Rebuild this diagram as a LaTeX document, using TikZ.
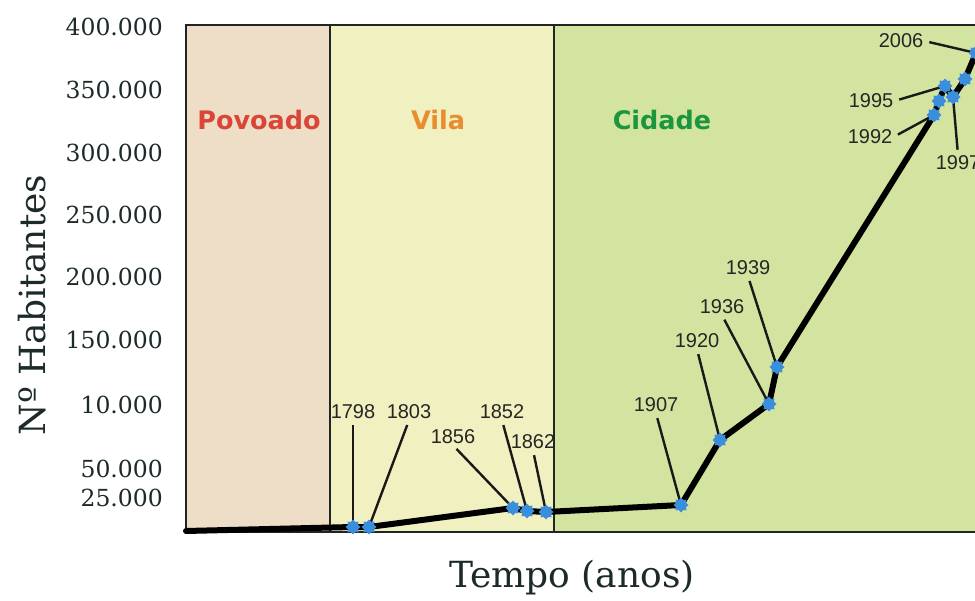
\documentclass[tikz,border=0pt]{standalone}
\usepackage{fontspec}
\usetikzlibrary{shapes.geometric}
\newfontfamily\serifax{DejaVu Serif}
\newfontfamily\sansyr{Liberation Sans}
\newfontfamily\sansbold{DejaVu Sans}
\definecolor{povfill}{RGB}{238,222,200}
\definecolor{vilfill}{RGB}{240,240,192}
\definecolor{cidfill}{RGB}{210,228,160}
\definecolor{povtext}{RGB}{217,70,55}
\definecolor{viltext}{RGB}{232,140,45}
\definecolor{cidtext}{RGB}{28,150,62}
\definecolor{markblue}{RGB}{58,142,220}
\definecolor{framec}{RGB}{30,38,36}
\definecolor{ticktext}{RGB}{28,42,42}
\tikzset{
  tick/.style={anchor=east, font=\serifax\fontsize{23.5}{23.5}\selectfont, text=ticktext, inner sep=0pt},
  yearlbl/.style={font=\sansyr\fontsize{20}{20}\selectfont, text=black!85, inner sep=1pt},
  era/.style={font=\sansbold\bfseries\fontsize{25.5}{25.5}\selectfont},
  leader/.style={line width=2.4pt, black!90, shorten <=5pt},
  curve/.style={line width=6pt, black, line join=round, line cap=round},
  popmark/.style={star, star points=8, star point ratio=1.35, minimum size=15pt, inner sep=0pt, fill=markblue, draw=none},
  sep/.style={line width=2.2pt, framec}
}
\begin{document}
\begin{tikzpicture}[x=1pt,y=-1pt]
\clip (0,0) rectangle (975,601);
\fill[white] (0,0) rectangle (975,601);
% regions
\fill[povfill] (186,25) rectangle (330,532);
\fill[vilfill] (330,25) rectangle (554,532);
\fill[cidfill] (554,25) rectangle (990,532);
\draw[sep] (330,25) -- (330,532);
\draw[sep] (554,25) -- (554,532);
\draw[line width=2.5pt, framec] (990,532) -- (186,532) -- (186,25) -- (990,25);
% era names
\node[era, text=povtext] (povoado) at (259,120) {Povoado};
\node[era, text=viltext] (vila) at (438,120) {Vila};
\node[era, text=cidtext] (cidade) at (662,120) {Cidade};
% y ticks
\node[tick] (t400) at (163,27) {400.000};
\node[tick] (t350) at (163,90) {350.000};
\node[tick] (t300) at (163,153) {300.000};
\node[tick] (t250) at (163,215) {250.000};
\node[tick] (t200) at (163,277) {200.000};
\node[tick] (t150) at (163,340) {150.000};
\node[tick] (t10) at (163,405) {10.000};
\node[tick] (t50) at (163,469) {50.000};
\node[tick] (t25) at (163,498) {25.000};
% axis titles
\node[font=\serifax\fontsize{36}{36}\selectfont, text=ticktext, rotate=90] (ytitle) at (32,305) {Nº Habitantes};
\node[font=\serifax\fontsize{36}{36}\selectfont, text=ticktext] (xtitle) at (572,578) {Tempo (anos)};
% data points
\coordinate (start) at (186,531);
\coordinate (m1798) at (353,527);
\coordinate (m1803) at (369,527);
\coordinate (m1856) at (513,508);
\coordinate (m1852) at (527,511);
\coordinate (m1862) at (546,512);
\coordinate (m1907) at (681,505);
\coordinate (m1920) at (720,440);
\coordinate (m1936) at (769,404);
\coordinate (m1939) at (777,367);
\coordinate (m1992) at (934,115);
\coordinate (mA) at (939,101);
\coordinate (m1995) at (945,86);
\coordinate (m1997) at (953,97);
\coordinate (mB) at (965,79);
\coordinate (m2006) at (976,53);
\coordinate (endc) at (990,30);
\draw[curve] (start) -- (m1798) -- (m1803) -- (m1856) -- (m1852) -- (m1862) -- (m1907) -- (m1920) -- (m1936) -- (m1939) -- (m1992) -- (mA) -- (m1995) -- (m1997) -- (mB) -- (m2006) -- (endc);
% year labels
\node[yearlbl] (l1798) at (353,412) {1798};
\node[yearlbl] (l1803) at (409,412) {1803};
\node[yearlbl] (l1856) at (453,437) {1856};
\node[yearlbl] (l1852) at (502,412) {1852};
\node[yearlbl] (l1862) at (533,442) {1862};
\node[yearlbl] (l1907) at (656,405) {1907};
\node[yearlbl] (l1920) at (697,341) {1920};
\node[yearlbl] (l1936) at (722,307) {1936};
\node[yearlbl] (l1939) at (748,268) {1939};
\node[yearlbl] (l1992) at (870,137) {1992};
\node[yearlbl] (l1995) at (871,101) {1995};
\node[yearlbl] (l1997) at (958,163) {1997};
\node[yearlbl] (l2006) at (901,41) {2006};
% leaders
\draw[leader] (l1798.south) -- (m1798);
\draw[leader] (l1803.south) -- (m1803);
\draw[leader] (l1856.south) -- (m1856);
\draw[leader] (l1852.south) -- (m1852);
\draw[leader] (l1862.south) -- (m1862);
\draw[leader] (l1907.south) -- (m1907);
\draw[leader] (l1920.south) -- (m1920);
\draw[leader] (l1936.south) -- (m1936);
\draw[leader] (l1939.south) -- (m1939);
\draw[leader] (l1992.east) -- (m1992);
\draw[leader] (l1995.east) -- (m1995);
\draw[leader] (l1997.north) -- (m1997);
\draw[leader] (l2006.east) -- (m2006);
% markers
\foreach \m in {m1798,m1803,m1856,m1852,m1862,m1907,m1920,m1936,m1939,m1992,mA,m1995,m1997,mB,m2006}
  \node[popmark] at (\m) {};
\end{tikzpicture}
\end{document}
